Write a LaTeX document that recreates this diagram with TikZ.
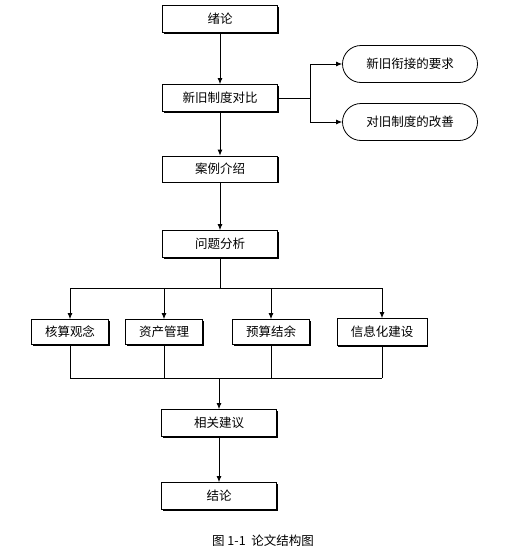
\documentclass[tikz,border=0pt]{standalone}
\usepackage{fontspec}
\setmainfont{Noto Sans CJK SC}
\usetikzlibrary{arrows.meta,shapes.misc,shadows}
\begin{document}
\begin{tikzpicture}[x=1pt,y=-1pt,
  every node/.style={font=\fontsize{12.5}{14}\selectfont, inner sep=0pt},
  box/.style={draw, line width=0.8pt, fill=white, minimum width=115pt, minimum height=27pt,
    drop shadow={shadow xshift=1.2pt, shadow yshift=-1.2pt, fill=black, opacity=1}},
  sbox/.style={box, minimum width=77pt, minimum height=25pt},
  term/.style={draw, line width=0.8pt, rounded rectangle, minimum width=135pt, minimum height=37pt},
  conn/.style={line width=0.8pt},
  arr/.style={conn, -{Latex[length=6pt,width=5pt]}}]
\useasboundingbox (0,0) rectangle (511,557);
\node[box] (n1) at (220,19) {绪论};
\node[box] (n2) at (220,98) {新旧制度对比};
\node[term] (e1) at (410,64) {新旧衔接的要求};
\node[term] (e2) at (410,122) {对旧制度的改善};
\node[box, minimum height=26pt] (n3) at (220,169) {案例介绍};
\node[box] (n4) at (220,244) {问题分析};
\node[sbox] (b1) at (70,332) {核算观念};
\node[sbox] (b2) at (164,332) {资产管理};
\node[sbox] (b3) at (271,332) {预算结余};
\node[sbox, minimum width=90pt, minimum height=27pt] (b4) at (382,332) {信息化建设};
\node[box] (n5) at (219,423) {相关建议};
\node[box] (n6) at (219,496) {结论};
\node (cap) at (263,541) {图 1-1\ \ 论文结构图};
\coordinate (sp) at (310,98);
\coordinate (top) at (220,288);
\coordinate (bot) at (219,378);
\draw[arr] (n1) -- (n2);
\draw[arr] (n2) -- (n3);
\draw[arr] (n3) -- (n4);
\draw[conn] (n2.east) -- (sp);
\draw[arr] (sp) |- (e1.west);
\draw[arr] (sp) |- (e2.west);
\draw[conn] (n4.south) -- (top);
\draw[conn] (b1.north |- top) -- (b4.north |- top);
\foreach \b in {b1,b2,b3,b4} {
  \draw[arr] (\b.north |- top) -- (\b.north);
  \draw[conn] (\b.south) -- (\b.south |- bot);
}
\draw[conn] (b1.south |- bot) -- (b4.south |- bot);
\draw[arr] (bot) -- (n5.north);
\draw[arr] (n5) -- (n6);
\end{tikzpicture}
\end{document}
